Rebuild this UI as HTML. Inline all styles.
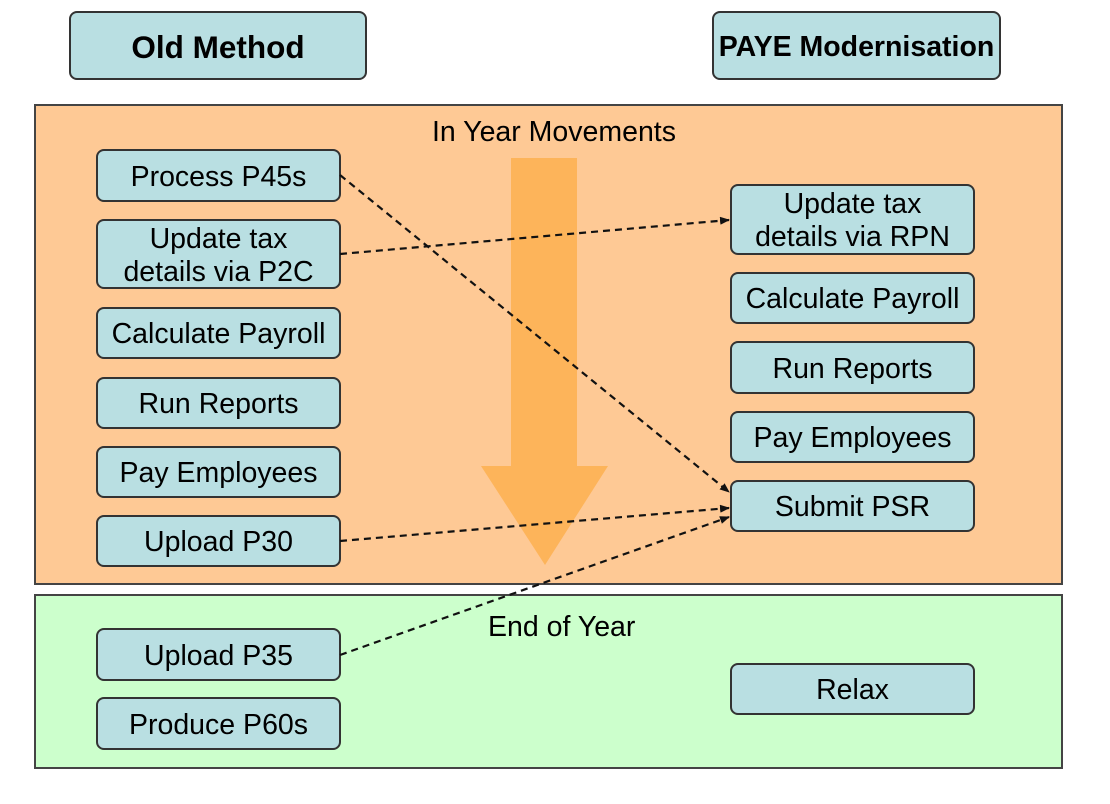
<!DOCTYPE html>
<html><head><style>
body{margin:0;width:1110px;height:804px;background:#fff;position:relative;font-family:"Liberation Sans",sans-serif;overflow:hidden}
.b{position:absolute;box-sizing:border-box;background:#b9dfe2;border:2px solid #333;border-radius:8px;display:flex;align-items:center;justify-content:center;text-align:center;font-size:28.5px;line-height:33px;color:#000;padding-top:3px}
.p{position:absolute;box-sizing:border-box;border:2px solid #444}
.t{position:absolute;font-size:28.5px}
</style></head><body>
<div class="p" style="left:34px;top:104px;width:1029px;height:481px;background:#fec995"></div>
<div class="p" style="left:34px;top:594px;width:1029px;height:175px;background:#ccffcc"></div>
<div class="t" style="left:432px;top:116px">In Year Movements</div>
<div class="t" style="left:488px;top:611px">End of Year</div>
<svg style="position:absolute;left:0;top:0" width="1110" height="804">
<polygon points="511,158 577,158 577,466 608,466 545,565 481,466 511,466" fill="#fdb050" opacity="0.85"/>
</svg>
<div class="b" style="left:69px;top:11px;width:298px;height:69px;font-weight:bold;font-size:31.5px">Old Method</div>
<div class="b" style="left:712px;top:11px;width:289px;height:69px;font-weight:bold;font-size:28.5px">PAYE Modernisation</div>
<div class="b" style="left:96px;top:149px;width:245px;height:53px">Process P45s</div>
<div class="b" style="left:96px;top:219px;width:245px;height:70px">Update tax<br>details via P2C</div>
<div class="b" style="left:96px;top:307px;width:245px;height:52px">Calculate Payroll</div>
<div class="b" style="left:96px;top:377px;width:245px;height:52px">Run Reports</div>
<div class="b" style="left:96px;top:446px;width:245px;height:52px">Pay Employees</div>
<div class="b" style="left:96px;top:515px;width:245px;height:52px">Upload P30</div>
<div class="b" style="left:96px;top:628px;width:245px;height:53px">Upload P35</div>
<div class="b" style="left:96px;top:697px;width:245px;height:53px">Produce P60s</div>
<div class="b" style="left:730px;top:184px;width:245px;height:71px">Update tax<br>details via RPN</div>
<div class="b" style="left:730px;top:272px;width:245px;height:52px">Calculate Payroll</div>
<div class="b" style="left:730px;top:341px;width:245px;height:53px">Run Reports</div>
<div class="b" style="left:730px;top:411px;width:245px;height:52px">Pay Employees</div>
<div class="b" style="left:730px;top:480px;width:245px;height:52px">Submit PSR</div>
<div class="b" style="left:730px;top:663px;width:245px;height:52px">Relax</div>
<svg style="position:absolute;left:0;top:0" width="1110" height="804">
<defs><marker id="a" markerWidth="10" markerHeight="8" refX="9" refY="4" orient="auto" markerUnits="userSpaceOnUse"><polygon points="0,0 10,4 0,8" fill="#111"/></marker></defs>
<g stroke="#111" stroke-width="2.2" stroke-dasharray="7,5" fill="none" marker-end="url(#a)">
<line x1="340" y1="175" x2="729" y2="492"/>
<line x1="340" y1="254" x2="729" y2="220"/>
<line x1="340" y1="541" x2="729" y2="508"/>
<line x1="340" y1="655" x2="729" y2="517"/>
</g></svg>
</body></html>
